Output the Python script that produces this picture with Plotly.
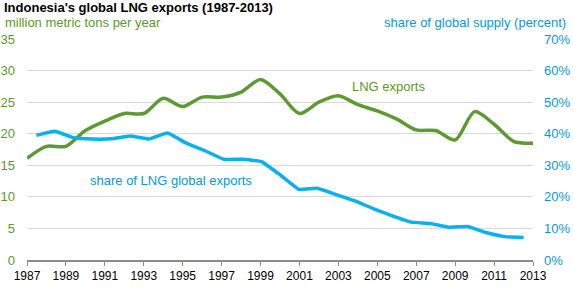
import plotly.graph_objects as go

# Data
years = list(range(1987, 2014))
lng_exports = [16.1, 18.0, 18.0, 20.5, 22.0, 23.2, 23.2, 25.6, 24.3, 25.8,
               25.8, 26.6, 28.6, 26.3, 23.2, 25.0, 26.0, 24.6, 23.6, 22.3,
               20.6, 20.5, 19.0, 23.5, 21.5, 18.8, 18.5]
share_pct = [39.5, 40.8, 38.7, 38.3, 38.4, 39.3, 38.3, 40.2, 37.0, 34.6,
             31.9, 31.9, 31.2, 27.0, 22.4, 22.7, 20.7, 18.7, 16.2, 14.0,
             12.0, 11.6, 10.4, 10.6, 8.7, 7.4, 7.1]
tick_years = list(range(1987, 2014, 2))
left_ticks = list(range(0, 36, 5))
right_ticks = list(range(0, 71, 10))

GREEN = "#5e9a34"
GREEN_TXT = "#5a9a2a"
BLUE = "#0ab1ef"
BLUE_TXT = "#0a97d8"
FONT = "Liberation Sans, Arial, sans-serif"

fig = go.Figure()

fig.add_trace(go.Scatter(
    x=years, y=lng_exports, name="LNG exports", mode="lines",
    line=dict(color=GREEN, width=3.5, shape="spline", smoothing=0.8),
    xaxis="x", yaxis="y"))

# share series sits on a category-style axis (points centred between ticks)
fig.add_trace(go.Scatter(
    x=years, y=share_pct, name="share of LNG global exports", mode="lines",
    line=dict(color=BLUE, width=3.5, shape="spline", smoothing=0.3),
    xaxis="x2", yaxis="y2"))

fig.update_layout(
    width=573, height=287,
    margin=dict(l=27, r=40, t=39, b=27, autoexpand=False),
    paper_bgcolor="white", plot_bgcolor="white",
    showlegend=False,
    font=dict(family=FONT, size=13, color="black"),
    title=dict(text="<b>Indonesia's global LNG exports (1987-2013)</b>",
               xref="container", yref="container", x=0.007, y=1 - 7 / 287,
               xanchor="left", yanchor="middle", automargin=False,
               font=dict(family=FONT, size=13, color="black")),
    xaxis=dict(range=[1987, 2013], tickvals=tick_years, showgrid=False,
               showline=True, linecolor="#8c8c8c", linewidth=1.5,
               ticks="outside", ticklen=4, tickcolor="#8c8c8c",
               zeroline=False, automargin=False,
               tickfont=dict(color="black", size=12)),
    xaxis2=dict(range=[1986.5, 2013.5], overlaying="x", visible=False,
                automargin=False),
    yaxis=dict(range=[0, 35], tickvals=left_ticks, showgrid=True,
               gridcolor="#d9d9d9", gridwidth=1, zeroline=False,
               showline=False, ticks="", ticklabelstandoff=11,
               automargin=False,
               tickfont=dict(color=GREEN_TXT, size=13)),
    yaxis2=dict(range=[0, 70], tickvals=right_ticks,
                ticktext=[f"{v}%" for v in right_ticks],
                overlaying="y", side="right", showgrid=False,
                zeroline=False, showline=False, ticks="",
                ticklabelstandoff=10, automargin=False,
                tickfont=dict(color=BLUE_TXT, size=13)),
)

fig.add_annotation(text="million metric tons per year", xref="paper", yref="paper",
                   x=-0.047, y=1.074, xanchor="left", yanchor="middle",
                   showarrow=False, font=dict(color=GREEN_TXT, size=13))
fig.add_annotation(text="share of global supply (percent)", xref="paper", yref="paper",
                   x=1.07, y=1.074, xanchor="right", yanchor="middle",
                   showarrow=False, font=dict(color=BLUE_TXT, size=13))
fig.add_annotation(text="LNG exports", xref="x", yref="y",
                   x=2005.6, y=27.4, showarrow=False,
                   font=dict(color=GREEN_TXT, size=13))
fig.add_annotation(text="share of LNG global exports", xref="x", yref="y",
                   x=1994.4, y=12.6, showarrow=False,
                   font=dict(color=BLUE_TXT, size=13))

# page body has a default 8px margin; drop it so the figure sits at 0,0
fig.write_html("out.html", config={"displayModeBar": False},
               post_script="document.body.style.margin='0';")
